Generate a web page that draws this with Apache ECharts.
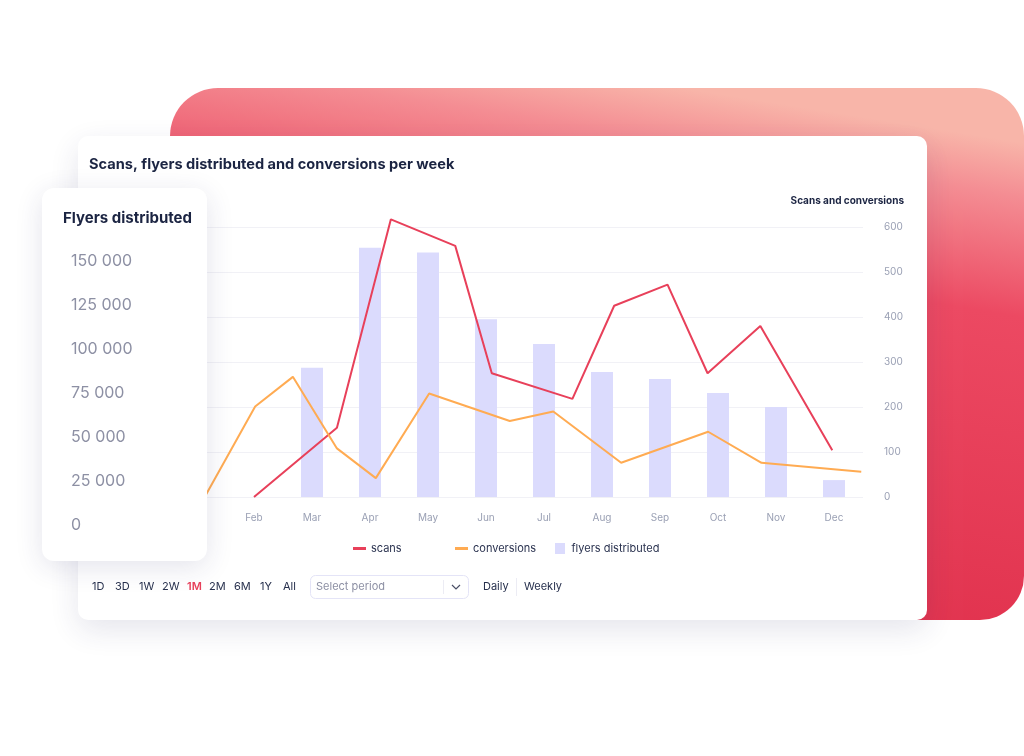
<!DOCTYPE html>
<html>
<head>
<meta charset="utf-8">
<script src="https://cdn.jsdelivr.net/npm/echarts@6/dist/echarts.min.js"></script>
<style>
html, body { margin: 0; padding: 0; background: #fff; }
#chart { width: 1024px; height: 756px; }
</style>
</head>
<body>
<div id="chart"></div>
<script>
// months on the category axis (Jan sits behind the floating card)
var months = ['Jan', 'Feb', 'Mar', 'Apr', 'May', 'Jun', 'Jul', 'Aug', 'Sep', 'Oct', 'Nov', 'Dec'];
var flyers = [null, null, 71800, 138500, 135900, 98700, 85000, 69400, 65600, 57800, 50000, 9400];

// line points are not on month centres in the mockup, so x is a month position
var scansX = [1.00, 2.43, 3.36, 4.47, 5.10, 6.49, 7.21, 8.13, 8.82, 9.73, 10.97];
var scansY = [0, 154, 617, 558, 275, 218, 425, 472, 275, 380, 104];
var convX = [0.15, 1.02, 1.67, 2.43, 3.10, 4.02, 5.41, 6.16, 7.33, 8.83, 9.75, 11.47];
var convY = [0, 201, 267, 108, 42, 230, 169, 190, 76, 145, 76, 56];

var periods = ['1D', '3D', '1W', '2W', '1M', '2M', '6M', '1Y', 'All'];
var activePeriod = '1M';

var FONT = 'Inter, "Noto Sans", sans-serif';

function pairs(xs, ys) {
    var out = [];
    for (var i = 0; i < xs.length; i++) out.push([xs[i], ys[i]]);
    return out;
}

function spaced(v) {
    return String(v).replace(/\B(?=(\d{3})+(?!\d))/g, ' ');
}

var chart = echarts.init(document.getElementById('chart'));

var periodX = [92, 115, 139, 162, 187, 209, 234, 260, 283];
var controls = periods.map(function (p, i) {
    return {
        type: 'text', x: periodX[i], y: 587, z: 5,
        style: {
            text: p, fill: p === activePeriod ? '#e8405a' : '#27304d',
            font: (p === activePeriod ? '600 ' : '400 ') + '11px ' + FONT,
            verticalAlign: 'middle'
        }
    };
});

var lineIcon = 'path://M0,0 L13,0 L13,3 L0,3 Z';
var legendBase = {
    top: 543, padding: 0, itemWidth: 13, itemHeight: 11,
    textStyle: { color: '#2b3350', fontSize: 11 }
};
function legendAt(left, name, icon) {
    return echarts.util.merge({ left: left, data: [{ name: name, icon: icon }] }, legendBase, true);
}

var option = {
    animation: false,
    textStyle: { fontFamily: FONT },
    graphic: [
        {
            type: 'rect', z: -20,
            shape: { x: 170, y: 88, width: 854, height: 532, r: [48, 48, 44, 0] },
            style: {
                fill: new echarts.graphic.LinearGradient(0.6, 0, 0.5, 1, [
                    { offset: 0, color: '#f8b5a9' },
                    { offset: 0.1, color: '#f48d93' },
                    { offset: 0.32, color: '#ec4962' },
                    { offset: 1, color: '#e0304c' }
                ])
            }
        },
        {
            type: 'rect', z: -10,
            shape: { x: 78, y: 136, width: 849, height: 484, r: 10 },
            style: { fill: '#fff', shadowBlur: 30, shadowOffsetY: 10, shadowColor: 'rgba(40,40,100,0.12)' }
        },
        {
            type: 'text', x: 89, y: 165, z: 5,
            style: {
                text: 'Scans, flyers distributed and conversions per week',
                font: '700 14.6px ' + FONT, fill: '#1b2442', verticalAlign: 'middle'
            }
        },
        {
            type: 'text', x: 904, y: 201, z: 5,
            style: {
                text: 'Scans and conversions', font: '700 10px ' + FONT,
                fill: '#1b2442', align: 'right', verticalAlign: 'middle'
            }
        },
        {
            type: 'rect', z: 100,
            shape: { x: 42, y: 188, width: 165, height: 373, r: 12 },
            style: { fill: '#fff', shadowBlur: 28, shadowOffsetY: 6, shadowColor: 'rgba(40,40,100,0.13)' }
        },
        {
            type: 'text', x: 63, y: 218, z: 105,
            style: {
                text: 'Flyers distributed', font: '700 15px ' + FONT,
                fill: '#1b2442', verticalAlign: 'middle'
            }
        },
        {
            type: 'rect', z: 5,
            shape: { x: 310.5, y: 575.5, width: 158, height: 23, r: 5 },
            style: { fill: '#fff', stroke: '#e4e4f7', lineWidth: 1 }
        },
        {
            type: 'text', x: 316, y: 587, z: 6,
            style: { text: 'Select period', font: '400 11px ' + FONT, fill: '#8d90a4', verticalAlign: 'middle' }
        },
        {
            type: 'line', z: 6,
            shape: { x1: 443.5, y1: 580, x2: 443.5, y2: 594 },
            style: { stroke: '#ececf4', lineWidth: 1 }
        },
        {
            type: 'polyline', z: 6,
            shape: { points: [[452, 585], [456, 589], [460, 585]] },
            style: { stroke: '#4a4f66', lineWidth: 1.2, fill: null }
        },
        {
            type: 'text', x: 483, y: 587, z: 5,
            style: { text: 'Daily', font: '400 11px ' + FONT, fill: '#27304d', verticalAlign: 'middle' }
        },
        {
            type: 'line', z: 5,
            shape: { x1: 516.5, y1: 578, x2: 516.5, y2: 596 },
            style: { stroke: '#ececf4', lineWidth: 1 }
        },
        {
            type: 'text', x: 524, y: 587, z: 5,
            style: { text: 'Weekly', font: '400 11px ' + FONT, fill: '#27304d', verticalAlign: 'middle' }
        }
    ].concat(controls),
    legend: [
        legendAt(353, 'scans', lineIcon),
        legendAt(455, 'conversions', lineIcon),
        legendAt(555, 'flyers distributed', 'path://M0,0 L10,0 L10,11 L0,11 Z')
    ],
    grid: [
        { left: 167, right: 161, top: 227, bottom: 259 },
        { left: 40, width: 22, top: 261, bottom: 231 }
    ],
    xAxis: [
        {
            type: 'category', data: months, gridIndex: 0,
            axisLine: { show: false }, axisTick: { show: false },
            axisLabel: { color: '#9aa0b4', fontSize: 10, margin: 16 }
        },
        { type: 'value', gridIndex: 0, min: -0.5, max: 11.5, show: false },
        { type: 'category', gridIndex: 1, data: [''], show: false }
    ],
    yAxis: [
        { type: 'value', gridIndex: 0, min: 0, max: 150000, show: false },
        {
            type: 'value', gridIndex: 0, position: 'right', min: 0, max: 600, interval: 100,
            axisLine: { show: false }, axisTick: { show: false },
            splitLine: { lineStyle: { color: '#f1f1f6' } },
            axisLabel: { color: '#9aa0b4', fontSize: 10, margin: 21 }
        },
        {
            type: 'value', gridIndex: 1, position: 'right', min: 0, max: 150000, interval: 25000,
            z: 110,
            axisLine: { show: false }, axisTick: { show: false }, splitLine: { show: false },
            axisLabel: { color: '#8d90a4', fontSize: 16, margin: 9, formatter: spaced }
        }
    ],
    series: [
        {
            name: 'flyers distributed', type: 'bar', xAxisIndex: 0, yAxisIndex: 0,
            data: flyers, barWidth: 22, itemStyle: { color: '#dbdbfd' }
        },
        {
            name: 'scans', type: 'line', xAxisIndex: 1, yAxisIndex: 1, clip: false,
            data: pairs(scansX, scansY), symbol: 'none',
            lineStyle: { color: '#e8405a', width: 2 }, itemStyle: { color: '#e8405a' }
        },
        {
            name: 'conversions', type: 'line', xAxisIndex: 1, yAxisIndex: 1, clip: false,
            data: pairs(convX, convY), symbol: 'none',
            lineStyle: { color: '#ffab52', width: 2 }, itemStyle: { color: '#ffab52' }
        }
    ]
};

chart.setOption(option);
</script>
</body>
</html>
